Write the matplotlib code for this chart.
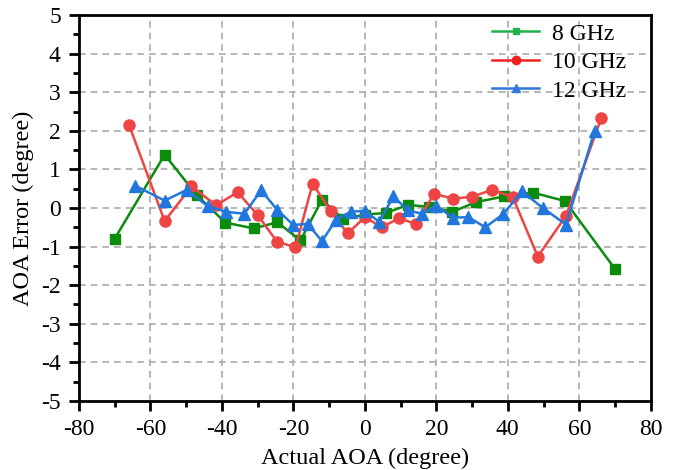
import matplotlib.pyplot as plt
from matplotlib.lines import Line2D

# 读取自图中的数据
x_8g = [-70, -56, -47, -39, -31, -24.5, -18, -12, -6, 0, 6, 12, 18, 24.5, 31, 39, 47, 56, 70]
y_8g = [-0.80, 1.38, 0.33, -0.38, -0.53, -0.37, -0.84, 0.21, -0.29, -0.17, -0.13, 0.08, 0.03, -0.10, 0.15, 0.30, 0.40, 0.18, -1.58]

x_10g = [-66, -56, -48.5, -41.6, -35.6, -30, -24.6, -19.4, -14.6, -9.6, -4.8, 0,
         4.8, 9.6, 14.3, 19.4, 24.6, 30, 35.6, 41.4, 48.4, 56.3, 66.2]
y_10g = [2.16, -0.34, 0.56, 0.07, 0.41, -0.18, -0.87, -1.02, 0.63, -0.07, -0.66, -0.24,
         -0.50, -0.26, -0.42, 0.37, 0.24, 0.29, 0.47, 0.28, -1.26, -0.20, 2.34]

x_12g = [-64.3, -56, -49.8, -44, -38.7, -33.7, -29, -24.6, -20, -16, -12, -8, -4, 0,
         4, 8, 12, 16, 20, 24.6, 29, 33.7, 38.7, 44, 49.8, 56.3, 64.3]
y_12g = [0.58, 0.19, 0.47, 0.05, -0.10, -0.15, 0.46, -0.04, -0.44, -0.41, -0.86, -0.30, -0.10, -0.07,
         -0.36, 0.30, -0.06, -0.15, 0.06, -0.25, -0.24, -0.50, -0.16, 0.43, 0.0, -0.43, 2.0]

labels = ["8 GHz", "10 GHz", "12 GHz"]
xticks = list(range(-80, 81, 20))
yticks = list(range(-5, 6, 1))

plt.rcParams['font.family'] = ['Liberation Serif', 'DejaVu Serif']
plt.rcParams['axes.unicode_minus'] = False

fig = plt.figure(figsize=(6.8, 4.7), dpi=100)
ax = fig.add_axes([0.116, 0.147, 0.841, 0.821])

ax.plot(x_8g, y_8g, "s-", color="#0c8c0c", markersize=7, linewidth=1.8, zorder=3)
ax.plot(x_10g, y_10g, "o-", color="#ee4444", markersize=8, linewidth=1.8, zorder=4)
ax.plot(x_12g, y_12g, "^-", color="#2277dd", markersize=9, linewidth=1.8, zorder=5)

ax.set_xlim(-80, 80)
ax.set_ylim(-5, 5)
ax.set_xticks(xticks)
ax.set_yticks(yticks)
ax.set_xticks(range(-70, 80, 20), minor=True)
ax.set_yticks([v + 0.5 for v in range(-5, 5)], minor=True)
ax.tick_params(labelsize=17)
ax.grid(True, which='major', linestyle=(0, (4, 3)), color='#aaaaaa', linewidth=1.2)
ax.set_axisbelow(True)

for s in ax.spines.values():
    s.set_linewidth(2)
ax.tick_params(which='major', direction='out', length=7, width=2, top=False, right=False, pad=6)
ax.tick_params(which='minor', direction='out', length=4, width=2, top=False, right=False)

ax.set_xlabel("Actual AOA (degree)", fontsize=17.5, labelpad=6)
ax.set_ylabel("AOA Error (degree)", fontsize=17.5, labelpad=5)

# 图例颜色比曲线稍亮
handles = [Line2D([], [], color="#22b14c", marker="s", markersize=5, linewidth=1.8),
           Line2D([], [], color="#ee2222", marker="o", markersize=6, linewidth=1.8),
           Line2D([], [], color="#3377dd", marker="^", markersize=6, linewidth=1.8)]
ax.legend(handles, labels, loc='upper right', frameon=False, fontsize=17, handlelength=2.0,
          handletextpad=0.55, labelspacing=0.3, borderaxespad=0.1,
          bbox_to_anchor=(0.978, 1.01))

fig.savefig("out.png", dpi=100)
